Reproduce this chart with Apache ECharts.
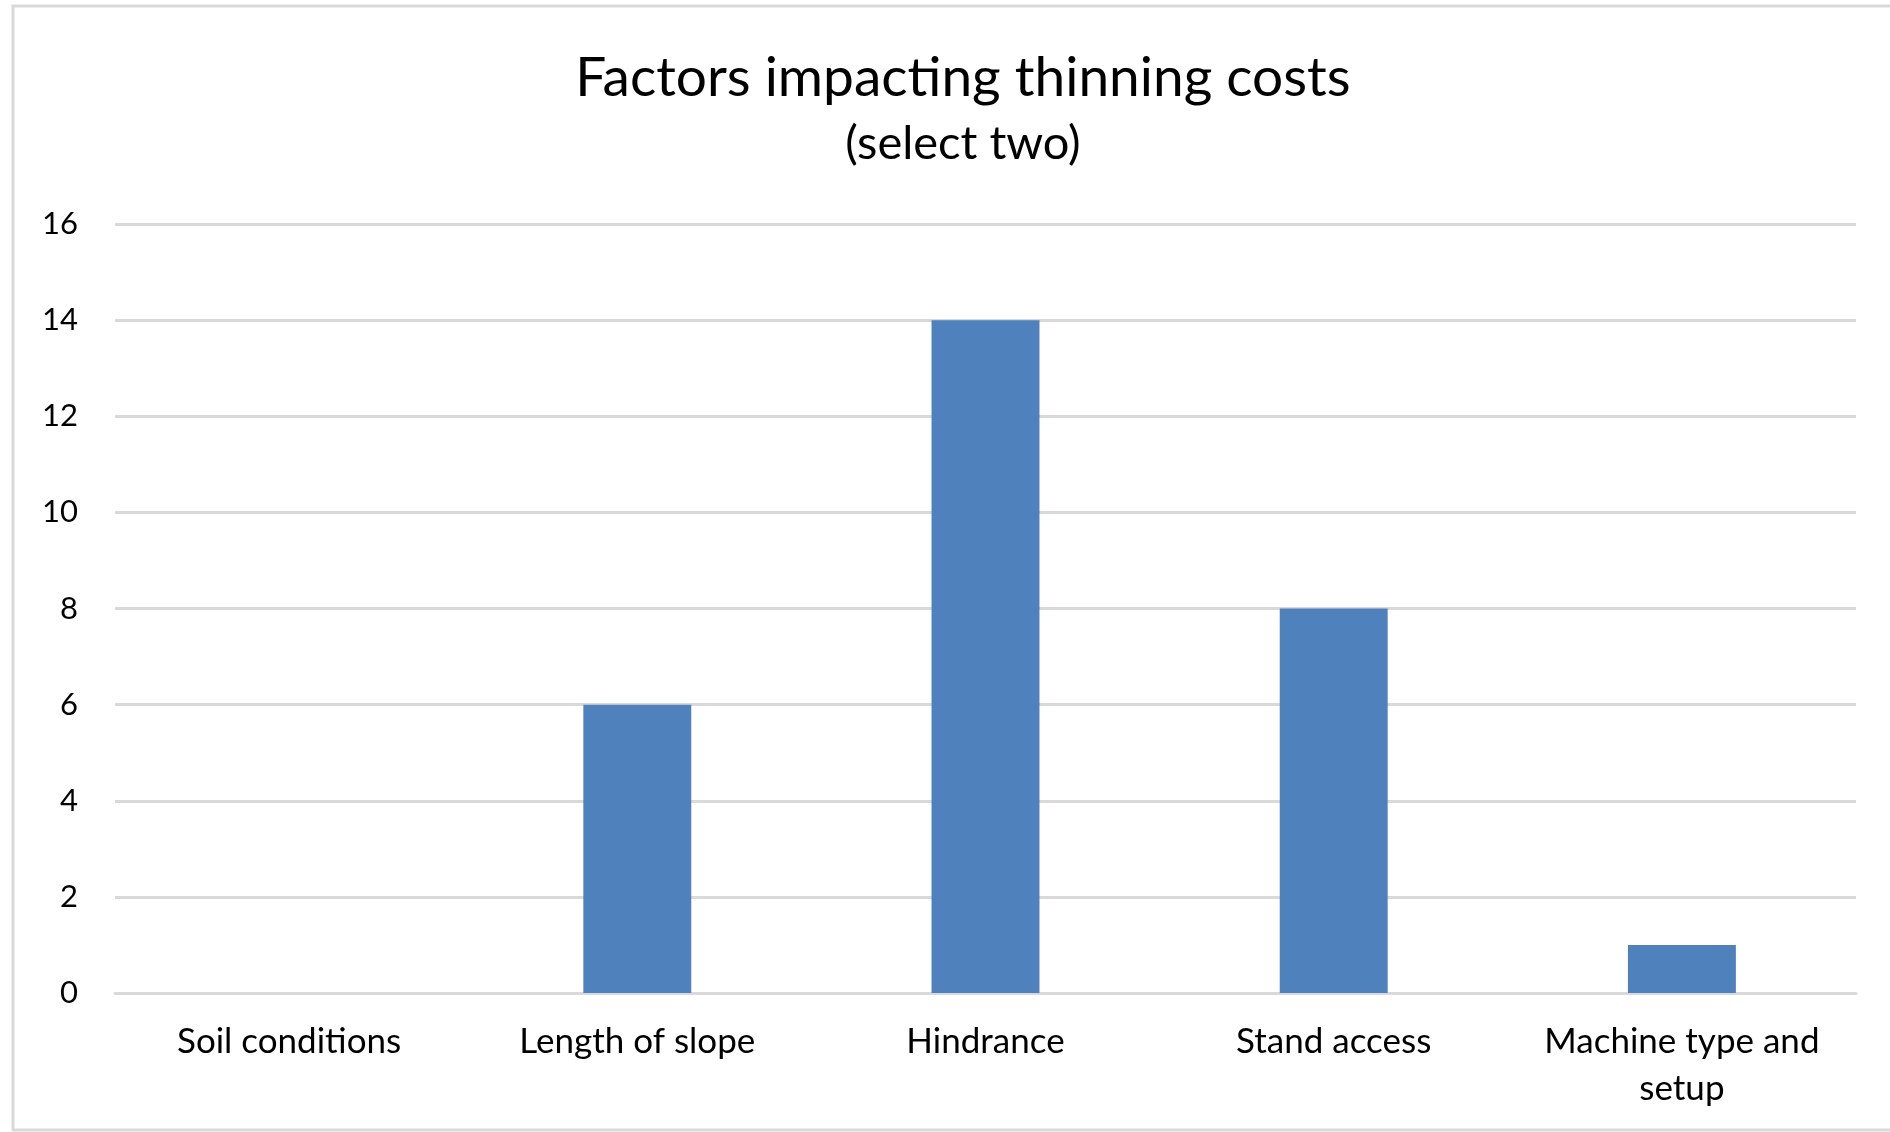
<!DOCTYPE html>
<html lang="en">
<head>
    <meta charset="UTF-8">
    <title>Factors impacting thinning costs</title>
    <script src="https://cdn.jsdelivr.net/npm/echarts@6/dist/echarts.min.js"></script>
    <style>
        html, body { margin: 0; padding: 0; background: #fff; }
        #main_1 { width: 1890px; height: 1132px; }
    </style>
</head>
<body>
<div id="main_1"></div>
<script>
    var categories = ['Soil conditions', 'Length of slope', 'Hindrance', 'Stand access', 'Machine type and\nsetup'];
    var counts = [0, 6, 14, 8, 1];
    var yTicks = [0, 2, 4, 6, 8, 10, 12, 14, 16];

    var fontFam = 'Lato, "Open Sans", sans-serif';

    var myChart = echarts.init(document.getElementById('main_1'));

    var option = {
        backgroundColor: '#fff',
        animation: false,
        title: {
            text: 'Factors impacting thinning costs',
            subtext: '(select two)',
            left: 958,
            textAlign: 'center',
            top: 46,
            itemGap: 14,
            textStyle: { fontFamily: fontFam, fontSize: 55, fontWeight: 'normal', color: '#000' },
            subtextStyle: { fontFamily: fontFam, fontSize: 47, color: '#000' }
        },
        graphic: [{
            type: 'rect',
            shape: { x: 13, y: 6, width: 1900, height: 1124 },
            style: { fill: 'none', stroke: '#D9D9D9', lineWidth: 3 },
            silent: true
        }],
        grid: { left: 115, right: 34, top: 224, bottom: 139 },
        xAxis: {
            type: 'category',
            data: categories,
            axisLine: { show: true, lineStyle: { color: '#D9D9D9', width: 3 } },
            axisTick: { show: false },
            axisLabel: {
                interval: 0,
                margin: 25,
                fontFamily: fontFam,
                fontSize: 35,
                lineHeight: 47,
                color: '#000'
            }
        },
        yAxis: {
            type: 'value',
            min: yTicks[0],
            max: yTicks[yTicks.length - 1],
            interval: 2,
            axisLine: { show: false },
            axisTick: { show: false },
            axisLabel: { margin: 37, fontFamily: fontFam, fontSize: 31, color: '#000' },
            splitLine: { lineStyle: { color: '#D9D9D9', width: 3 } }
        },
        series: [{
            type: 'bar',
            data: counts,
            barWidth: '31%',
            itemStyle: { color: '#4F81BD' }
        }]
    };
    myChart.setOption(option);
</script>
</body>
</html>
